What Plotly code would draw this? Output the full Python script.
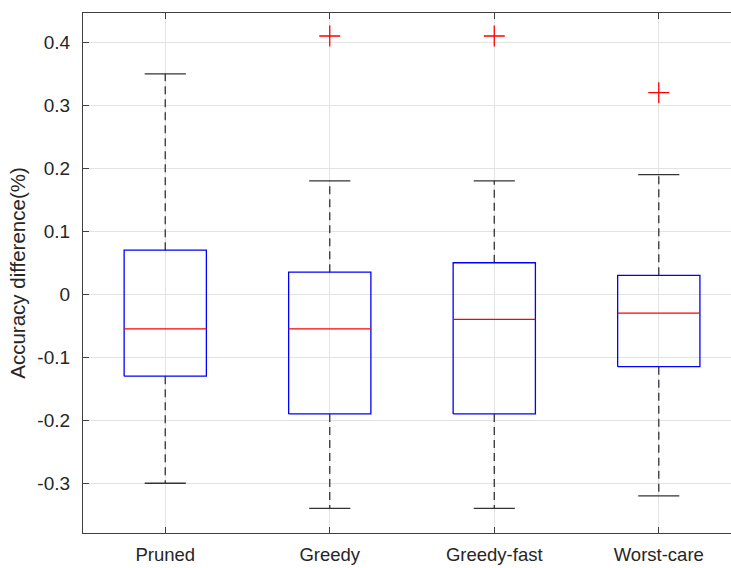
import plotly.graph_objects as go

# Box statistics per method
methods = ["Pruned", "Greedy", "Greedy-fast", "Worst-care"]
positions = [1, 2, 3, 4]
upper_whisker = [0.35, 0.18, 0.18, 0.19]
q3 = [0.07, 0.035, 0.05, 0.03]
median = [-0.055, -0.055, -0.04, -0.03]
q1 = [-0.13, -0.19, -0.19, -0.115]
lower_whisker = [-0.30, -0.34, -0.34, -0.32]
outlier_pos = [2, 3, 4]
outlier_val = [0.41, 0.41, 0.32]

y_ticks = [-0.3, -0.2, -0.1, 0, 0.1, 0.2, 0.3, 0.4]
y_ticktext = ["-0.3", "-0.2", "-0.1", "0", "0.1", "0.2", "0.3", "0.4"]

BOX_HALF = 0.25
CAP_HALF = 0.125
FONT = "Liberation Sans, Arial, sans-serif"
TEXT = "#262626"


def segments(pairs):
    xs, ys = [], []
    for (x0, y0), (x1, y1) in pairs:
        xs += [x0, x1, None]
        ys += [y0, y1, None]
    return xs, ys


fig = go.Figure()

# dashed whiskers
wx, wy = segments(
    [((p, a), (p, b)) for p, a, b in zip(positions, q3, upper_whisker)]
    + [((p, a), (p, b)) for p, a, b in zip(positions, q1, lower_whisker)]
)
fig.add_trace(go.Scatter(x=wx, y=wy, mode="lines",
                         line=dict(color="#333333", width=1.3, dash="8px,5px"),
                         hoverinfo="skip", showlegend=False))

# whisker caps
cx, cy = segments(
    [((p - CAP_HALF, v), (p + CAP_HALF, v)) for p, v in zip(positions, upper_whisker)]
    + [((p - CAP_HALF, v), (p + CAP_HALF, v)) for p, v in zip(positions, lower_whisker)]
)
fig.add_trace(go.Scatter(x=cx, y=cy, mode="lines",
                         line=dict(color="#333333", width=1.3),
                         hoverinfo="skip", showlegend=False))

# boxes
bx, by = [], []
for p, lo, hi in zip(positions, q1, q3):
    bx += [p - BOX_HALF, p + BOX_HALF, p + BOX_HALF, p - BOX_HALF, p - BOX_HALF, None]
    by += [lo, lo, hi, hi, lo, None]
fig.add_trace(go.Scatter(x=bx, y=by, mode="lines",
                         line=dict(color="#0000ff", width=1.3),
                         hoverinfo="skip", showlegend=False))

# medians
mx, my = segments([((p - BOX_HALF, m), (p + BOX_HALF, m)) for p, m in zip(positions, median)])
fig.add_trace(go.Scatter(x=mx, y=my, mode="lines",
                         line=dict(color="#ff0000", width=1.3),
                         hoverinfo="skip", showlegend=False))

# outliers
fig.add_trace(go.Scatter(x=outlier_pos, y=outlier_val, mode="markers",
                         marker=dict(symbol="cross-thin", size=15,
                                     line=dict(color="#ff0000", width=1.3)),
                         hoverinfo="skip", showlegend=False))

fig.update_layout(
    width=731, height=568,
    margin=dict(l=83, r=0, t=13, b=35),
    plot_bgcolor="white", paper_bgcolor="white",
    font=dict(family=FONT, color=TEXT, size=19),
    showlegend=False,
)
fig.update_xaxes(
    range=[0.5, 4.439], automargin=False,
    tickvals=positions, ticktext=methods,
    showline=True, linecolor="#404040", linewidth=1.2, mirror="ticks",
    ticks="inside", ticklen=6, tickcolor="#404040", tickwidth=1.2,
    showgrid=True, gridcolor="#e3e3e3", gridwidth=1,
    zeroline=False, ticklabelstandoff=5,
    tickfont=dict(size=18.5, color=TEXT, family=FONT),
)
fig.update_yaxes(
    range=[-0.379, 0.4465], automargin=False,
    tickvals=y_ticks, ticktext=y_ticktext,
    showline=True, linecolor="#404040", linewidth=1.2, mirror=False,
    ticks="inside", ticklen=6, tickcolor="#404040", tickwidth=1.2,
    showgrid=True, gridcolor="#e3e3e3", gridwidth=1,
    zeroline=False, ticklabelstandoff=8,
    tickfont=dict(size=19, color=TEXT, family=FONT),
    title=dict(text="Accuracy difference(%)", standoff=6,
               font=dict(size=20.5, color=TEXT, family=FONT)),
)

fig.write_html("out.html")
